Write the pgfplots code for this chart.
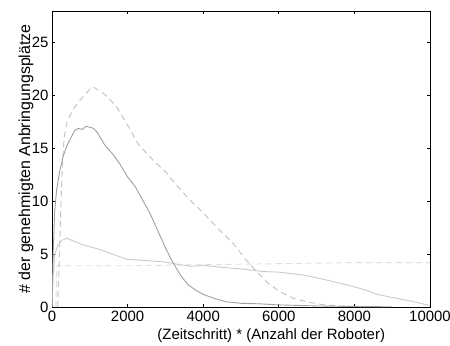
\documentclass[border=0pt]{standalone}
\usepackage{pgfplots}
\pgfplotsset{compat=1.18}
\usepackage{fontspec}
\setmainfont{Liberation Sans}
\definecolor{cA}{HTML}{A0A0A0}
\definecolor{cB}{HTML}{C0C0C0}
\definecolor{cC}{HTML}{CACACA}
\definecolor{cD}{HTML}{DEDEDE}
\begin{document}
\begin{tikzpicture}[x=1bp,y=1bp]
\useasboundingbox (0,0) rectangle (450,345);
\begin{axis}[
  at={(52bp,38bp)}, anchor=south west,
  scale only axis, width=378bp, height=296bp,
  xmin=0, xmax=10000, ymin=0, ymax=28,
  xtick={0,2000,...,10000}, ytick={0,5,...,25},
  scaled ticks=false,
  /pgf/number format/1000 sep={},
  /pgf/number format/assume math mode=true,
  tick align=inside, tick pos=both,
  major tick length=3bp,
  axis line style={black, line width=0.8bp},
  tick style={black, line width=0.8bp},
  font=\fontsize{15}{17}\selectfont,
  ticklabel style={font=\fontsize{15}{17}\selectfont},
  xticklabel style={yshift=-1bp},
  xlabel={(Zeitschritt) * (Anzahl der Roboter)},
  ylabel={\# der genehmigten Anbringungsplätze},
  x label style={at={(axis description cs:0.58,0)}, anchor=north, yshift=-18bp, font=\fontsize{15}{17}\selectfont},
  y label style={at={(axis description cs:-0.069,0.5)}, anchor=center, font=\fontsize{16}{18}\selectfont},
  every axis plot/.append style={line width=0.9bp},
]
% light horizontal dashed
\addplot[cD, dash pattern=on 6bp off 4bp] coordinates {
(100,0) (130,3.9) (1000,3.9) (2000,3.9) (3000,3.95) (4000,4.0) (5000,4.05) (6000,4.1) (7000,4.15) (8000,4.2) (10000,4.2)};
% low solid
\addplot[cC] coordinates {
(0,0) (30,3) (80,5) (150,5.8) (250,6.3) (400,6.5) (600,6.2) (800,5.9) (1000,5.7) (1300,5.4) (1600,5.0) (2000,4.5) (2500,4.4) (3000,4.25) (3400,4.0) (3700,3.85) (4000,3.95) (4500,3.75) (5000,3.6) (5600,3.35) (6000,3.3) (6700,3.0) (7200,2.6) (7800,2.1) (8300,1.6) (8600,1.2) (9000,0.9) (9500,0.55) (10000,0.15)};
% dashed peak 20
\addplot[cB, dash pattern=on 6bp off 4bp] coordinates {
(150,0) (190,4) (230,9) (270,13) (320,16) (400,17.6) (500,18.3) (600,18.9) (800,19.8) (1000,20.6) (1100,20.8) (1400,20.1) (1700,19.0) (2000,17.2) (2300,15.3) (2700,13.8) (3000,12.8) (3300,11.5) (3600,10.3) (4000,8.9) (4400,7.4) (4800,6.0) (5100,4.6) (5400,3.4) (5700,2.3) (6000,1.5) (6400,0.8) (6800,0.45) (7200,0.2) (7700,0.08) (8200,0.02)};
% solid peak 17
\addplot[cA] coordinates {
(0,0) (30,5) (70,9) (120,11) (200,12.8) (300,14.3) (400,15.3) (500,16.0) (600,16.7) (700,16.9) (800,16.8) (900,17.1) (1000,17.0) (1100,16.9) (1200,16.5) (1300,15.9) (1400,15.3) (1600,14.5) (1800,13.5) (2000,12.3) (2200,11.4) (2400,10.1) (2600,8.8) (2800,7.2) (3000,5.6) (3200,4.2) (3400,3.0) (3600,2.1) (3800,1.6) (4000,1.2) (4300,0.8) (4600,0.5) (5000,0.35) (5500,0.3) (6000,0.2) (7000,0.1) (8000,0.05) (9000,0.02)};
\end{axis}
\end{tikzpicture}
\end{document}
